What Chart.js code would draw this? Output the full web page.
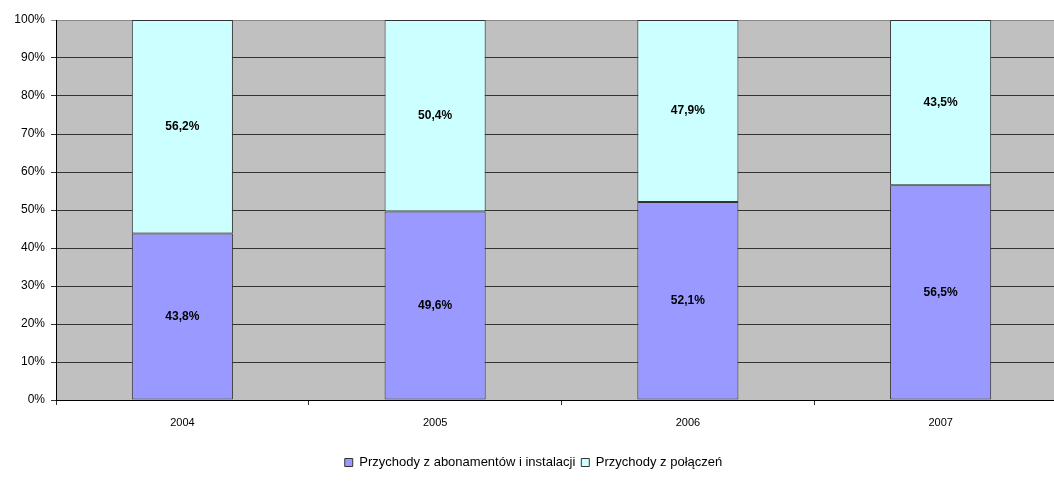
<!DOCTYPE html>
<html>
<head>
<meta charset="utf-8">
<script src="https://cdn.jsdelivr.net/npm/chart.js@4/dist/chart.umd.min.js"></script>
<style>
  html, body { margin: 0; padding: 0; background: #ffffff; overflow: hidden; }
  #wrap { position: relative; width: 1080px; height: 483px; }
</style>
</head>
<body>
<div id="wrap"><canvas id="chart"></canvas></div>
<script>
// Revenue structure, share of total (%)
const years = ['2004', '2005', '2006', '2007'];
const subscriptionShare = [43.8, 49.6, 52.1, 56.5];
const callShare = [56.2, 50.4, 47.9, 43.5];
const seriesNames = ['Przychody z abonamentów i instalacji', 'Przychody z połączeń'];
const yTicks = [0, 10, 20, 30, 40, 50, 60, 70, 80, 90, 100];

const FONT = "'Liberation Sans', Arial, sans-serif";
const fmt = v => v.toFixed(1).replace('.', ',') + '%';

// Grey plot background
const plotBackground = {
  id: 'plotBackground',
  beforeDraw(chart) {
    const { ctx, chartArea: a } = chart;
    ctx.save();
    ctx.fillStyle = '#c0c0c0';
    ctx.fillRect(a.left, a.top, a.right - a.left, a.bottom - a.top);
    ctx.restore();
  }
};

// Value labels centred in each stacked segment
const segmentLabels = {
  id: 'segmentLabels',
  afterDatasetsDraw(chart) {
    const { ctx } = chart;
    ctx.save();
    ctx.font = "bold 12px " + FONT;
    ctx.fillStyle = '#000000';
    ctx.textAlign = 'center';
    ctx.textBaseline = 'middle';
    chart.data.datasets.forEach((ds, i) => {
      chart.getDatasetMeta(i).data.forEach((bar, j) => {
        const p = bar.getProps(['x', 'y', 'base'], true);
        ctx.fillText(fmt(ds.data[j]), p.x, (p.y + p.base) / 2);
      });
    });
    ctx.restore();
  }
};

new Chart(document.getElementById('chart'), {
  type: 'bar',
  data: {
    labels: years,
    datasets: [
      {
        label: seriesNames[0],
        data: subscriptionShare,
        backgroundColor: '#9999ff',
        borderColor: '#333333',
        borderWidth: 1,
        borderSkipped: false,
        barPercentage: 0.4,
        categoryPercentage: 1.0
      },
      {
        label: seriesNames[1],
        data: callShare,
        backgroundColor: '#ccffff',
        borderColor: '#333333',
        borderWidth: 1,
        borderSkipped: false,
        barPercentage: 0.4,
        categoryPercentage: 1.0
      }
    ]
  },
  options: {
    responsive: true,
    maintainAspectRatio: false,
    animation: false,
    layout: { padding: { left: 0, right: 13, top: 20, bottom: 4 } },
    plugins: {
      legend: {
        position: 'bottom',
        labels: {
          font: { family: FONT, size: 13 },
          color: '#000000',
          boxWidth: 8,
          boxHeight: 8,
          padding: 6,
          generateLabels(chart) {
            return chart.data.datasets.map((ds, i) => ({
              text: ds.label,
              fillStyle: ds.backgroundColor,
              strokeStyle: '#333333',
              lineWidth: 1,
              datasetIndex: i,
              fontColor: '#000000'
            }));
          }
        }
      },
      tooltip: { enabled: false }
    },
    scales: {
      x: {
        stacked: true,
        grid: {
          offset: true,
          drawOnChartArea: false,
          drawTicks: true,
          tickLength: 5,
          color: '#333333'
        },
        border: { color: '#000000', width: 1 },
        ticks: {
          font: { family: FONT, size: 11 },
          color: '#000000',
          padding: 11
        },
        afterFit(scale) { scale.height = 50; }
      },
      y: {
        stacked: true,
        min: 0,
        max: 100,
        afterBuildTicks(scale) { scale.ticks = yTicks.map(v => ({ value: v })); },
        grid: {
          color: ctx => (ctx.tick && ctx.tick.value === 100) ? '#888888' : '#333333',
          lineWidth: 1,
          drawTicks: true,
          tickLength: 5
        },
        border: { color: '#000000', width: 1 },
        ticks: {
          font: { family: FONT, size: 12 },
          color: '#000000',
          padding: 6,
          callback: v => v + '%'
        },
        afterFit(scale) { scale.width = 56; }
      }
    }
  },
  plugins: [plotBackground, segmentLabels]
});
</script>
</body>
</html>
